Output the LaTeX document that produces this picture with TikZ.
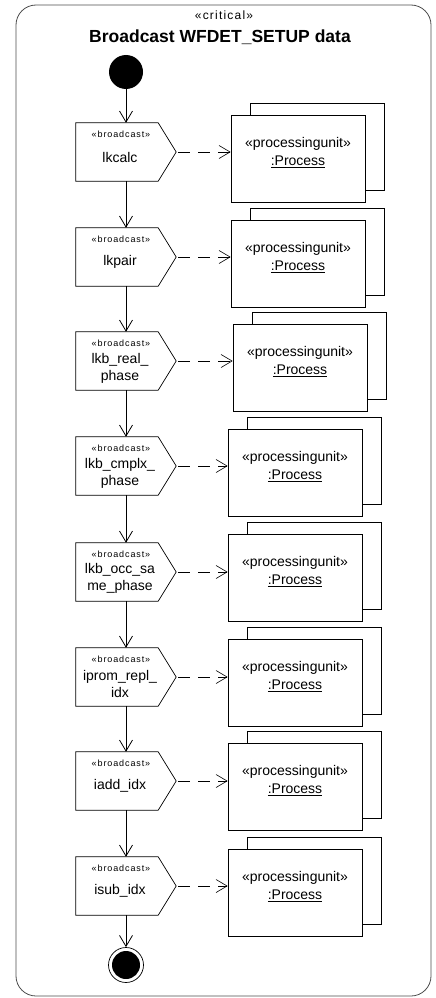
\documentclass[tikz,border=0pt]{standalone}
\usepackage{fontspec}
\setmainfont{Liberation Sans}
\newfontfamily\stereofont[LetterSpace=10]{Liberation Sans}
\usetikzlibrary{arrows.meta,positioning}

\begin{document}
\begin{tikzpicture}[x=1pt,y=-1pt,
    frame/.style={draw=black!70,line width=0.8pt,rounded corners=20pt},
    flow/.style={draw,line width=0.8pt,-{Straight Barb[length=11pt,width=13pt]}},
    dep/.style={draw,line width=0.6pt,dash pattern=on 12pt off 8pt,-{Straight Barb[length=11pt,width=13pt]}},
    sigbody/.style={rectangle,minimum width=82pt,minimum height=58pt,inner sep=0pt},
    sigline/.style={draw,line width=0.7pt,line join=miter},
    stereo/.style={font=\stereofont\fontsize{9}{10}\selectfont,inner sep=0pt},
    bname/.style={font=\fontsize{14}{17}\selectfont,align=center,inner sep=0pt},
    unit/.style={draw,line width=0.7pt,rectangle,minimum width=134pt,minimum height=87pt,inner sep=0pt},
    utext/.style={font=\fontsize{14}{18}\selectfont,align=center,inner sep=0pt}]
    \useasboundingbox (0,0) rectangle (436,998);
    \draw[frame] (16,5) rectangle (431,996);
    \node[font=\stereofont\fontsize{12}{14}\selectfont] (crit) at (224,15) {«critical»};
    \node[font=\bfseries\fontsize{17.5}{20}\selectfont] (title) at (220,37) {Broadcast WFDET\_SETUP data};
    \node[circle,fill,minimum size=34pt,inner sep=0pt] (init) at (126,72) {};
    % broadcast actions
    \foreach \i/\yt/\txt/\dy in {1/123/lkcalc/5, 2/228/lkpair/5,
        3/332/{lkb\_real\_\\phase}/7, 4/437/{lkb\_cmplx\_\\phase}/7,
        5/543/{lkb\_occ\_sa\\me\_phase}/6, 6/648/{iprom\_repl\_\\idx}/7,
        7/752/iadd\_idx/5, 8/857/isub\_idx/5} {
      \node[sigbody] (b\i) at (117,\yt+29) {};
      \draw[sigline] (b\i.north west) -- (b\i.north east) -- ([xshift=18pt]b\i.east)
        -- (b\i.south east) -- (b\i.south west) -- cycle;
      \coordinate (t\i) at ([xshift=18pt]b\i.east);
      \node[stereo] (s\i) at ([xshift=4pt,yshift=-11pt]b\i.north) {«broadcast»};
      \node[bname] (n\i) at ([xshift=3pt,yshift=-\dy pt]b\i.center) {\txt};
    }
    % processing units
    \foreach \i/\px/\py in {1/231/115, 2/231/220, 3/233/324, 4/228/429,
        5/228/534, 6/228/639, 7/228/743, 8/228/849} {
      \node[unit] (q\i) at (\px+86,\py+31.5) {};
      \node[unit,fill=white] (p\i) at (\px+67,\py+43.5) {};
      \node[utext] (u\i) at ([yshift=-38pt]p\i.north) {«processingunit»\\\underline{:Process}};
      \draw[dep] ([xshift=2pt]t\i) -- (t\i -| p\i.west);
    }
    \node[circle,draw,line width=0.7pt,minimum size=35pt,inner sep=0pt] (final) at (126,965) {};
    \fill (final.center) circle[radius=14pt];
    % control flow
    \draw[flow] (init) -- (init |- b1.north);
    \foreach \i [evaluate=\i as \j using int(\i+1)] in {1,...,7}
      \draw[flow] (init |- b\i.south) -- (init |- b\j.north);
    \draw[flow] (init |- b8.south) -- (final);
\end{tikzpicture}
\end{document}
